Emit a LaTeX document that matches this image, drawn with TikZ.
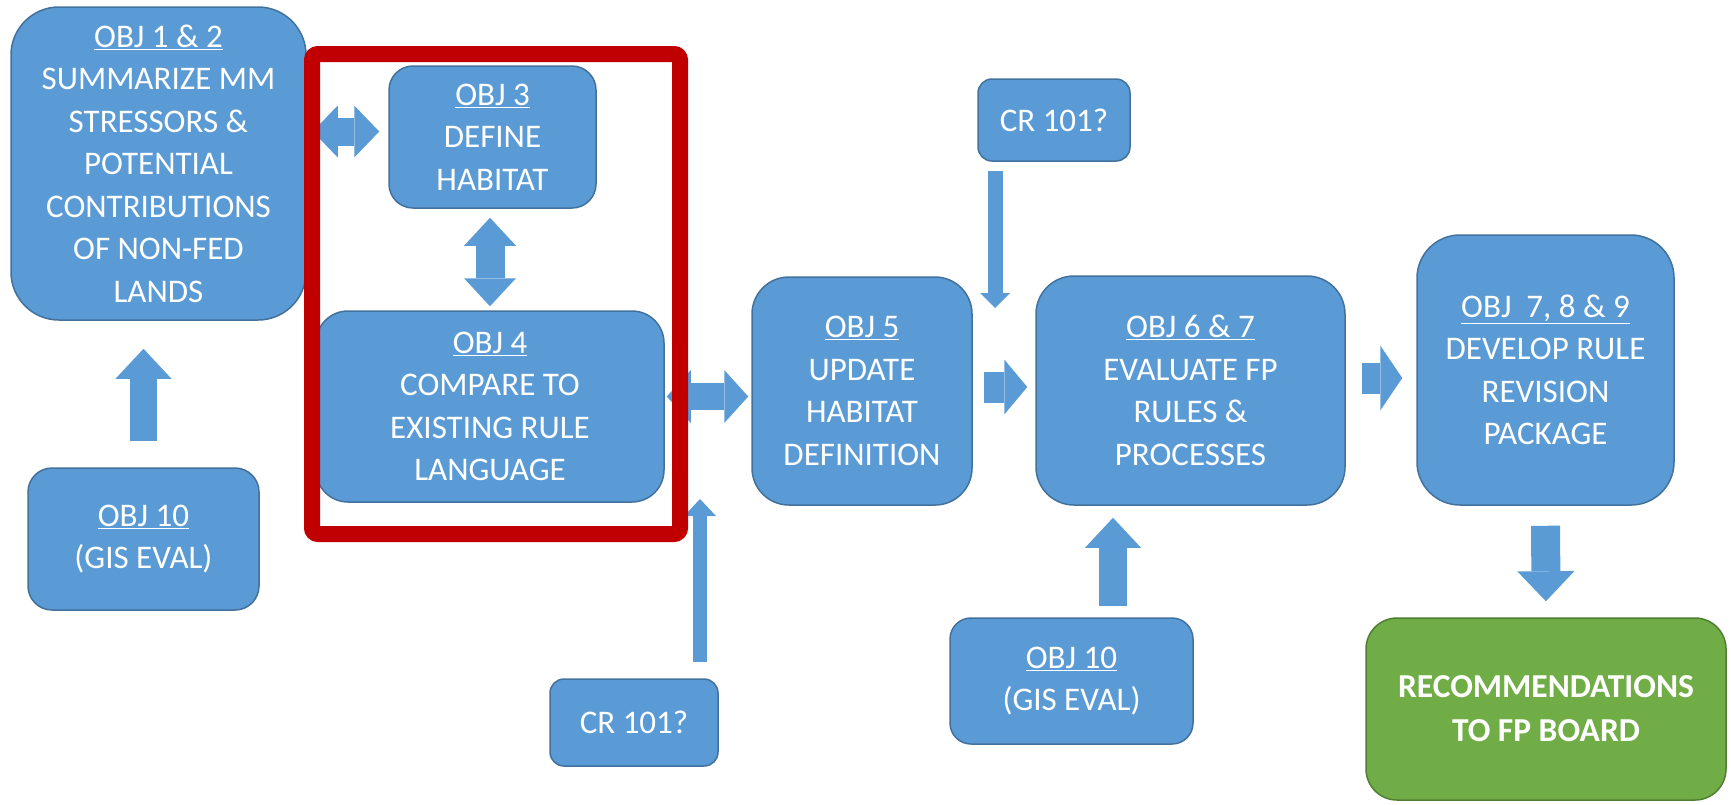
\documentclass[tikz,border=0pt]{standalone}
\usepackage{fontspec}
\setmainfont{Carlito}
\usetikzlibrary{positioning}
\usetikzlibrary{arrows.meta}
\usetikzlibrary{calc}
\definecolor{objBlue}{HTML}{5B9BD5}
\definecolor{objEdge}{HTML}{41719C}
\definecolor{recGreen}{HTML}{70AD47}
\definecolor{recEdge}{HTML}{507E32}
\definecolor{frameRed}{HTML}{C00000}
\tikzset{%
	% Specifications for style of nodes:
	base/.style = {rectangle, draw=objEdge, line width=1.5pt, fill=objBlue,
		text=white, inner sep=0pt, align=center,
		font=\fontsize{33}{42.5}\selectfont},
	objBox/.style = {base, rounded corners=#1},
	recBox/.style = {base, rounded corners=31pt, fill=recGreen, draw=recEdge,
		font=\fontsize{33.5}{44}\selectfont\bfseries},
	% block arrows: shaft width, head width, head length
	bigArrow/.style n args = {3}{draw=objBlue, line width=#1,
		arrows={-{Triangle[width=#2, length=#3, line width=0pt]}}},
	bigBothArrow/.style n args = {3}{draw=objBlue, line width=#1,
		arrows={{Triangle[width=#2, length=#3, line width=0pt]}-{Triangle[width=#2, length=#3, line width=0pt]}}},
}

\begin{document}
\begin{tikzpicture}[x=1pt, y=-1pt]
\useasboundingbox (0,0) rectangle (1731,804);

\node (obj12) [objBox=48pt, minimum width=295pt, minimum height=313pt] at (158.5,163.5) {\underline{OBJ 1 \& 2}\\SUMMARIZE MM\\STRESSORS \&\\POTENTIAL\\CONTRIBUTIONS\\OF NON-FED\\LANDS};
\node (obj3) [objBox=24pt, minimum width=207pt, minimum height=142pt] at (492.5,137) {\underline{OBJ 3}\\DEFINE\\HABITAT};
\node (obj4) [objBox=32pt, minimum width=348pt, minimum height=191pt] at (490,406.5) {\underline{OBJ 4}\\COMPARE TO\\EXISTING RULE\\LANGUAGE};
\node (obj5) [objBox=37pt, minimum width=220pt, minimum height=228pt] at (862,391) {\underline{OBJ 5}\\UPDATE\\HABITAT\\DEFINITION};
\node (obj67) [objBox=38pt, minimum width=309pt, minimum height=229pt] at (1190.5,390.5) {\underline{OBJ 6 \& 7}\\EVALUATE FP\\RULES \&\\PROCESSES};
\node (obj789) [objBox=43pt, minimum width=257pt, minimum height=270pt] at (1545.5,370) {\underline{OBJ~~7, 8 \& 9}\\DEVELOP RULE\\REVISION\\PACKAGE};
\node (crtop) [objBox=14pt, minimum width=152pt, minimum height=82pt] at (1054,120) {CR 101?};
\node (crlow) [objBox=14pt, minimum width=168pt, minimum height=87pt] at (634,722.5) {CR 101?};
\node (gisleft) [objBox=24pt, minimum width=231pt, minimum height=142pt] at (143.5,539) {\underline{OBJ 10}\\(GIS EVAL)};
\node (gismid) [objBox=21pt, minimum width=243pt, minimum height=126pt] at (1071.5,681) {\underline{OBJ 10}\\(GIS EVAL)};
\node (recboard) [recBox, minimum width=360pt, minimum height=182pt] at (1546,709) {RECOMMENDATIONS\\TO FP BOARD};

\coordinate (crlowTip) at (700,499);
\coordinate (crtopTip) at (995,308);

\draw[bigBothArrow={28pt}{52pt}{25pt}, shorten <=6pt, shorten >=9pt] ([yshift=32pt]obj12.east) -- ([yshift=32pt]obj12.east -| obj3.west);
\draw[bigBothArrow={29pt}{52pt}{28pt}, shorten <=9pt, shorten >=4pt] (obj4.north |- obj3.south) -- (obj4.north);
\draw[bigArrow={27pt}{56pt}{30pt}, shorten <=26pt, shorten >=28pt] (gisleft.north) -- (gisleft.north |- obj12.south);
\draw[bigBothArrow={27pt}{53pt}{24pt}, shorten <=2pt, shorten >=3pt] ([yshift=10pt]obj4.east) -- ([yshift=10pt]obj4.east -| obj5.west);
\draw[bigArrow={14pt}{32pt}{17pt}] ([xshift=66pt, yshift=16pt]crlow.north) -- (crlowTip);
\draw[bigArrow={15pt}{30pt}{15pt}] ([xshift=-59pt, yshift=-9pt]crtop.south) -- (crtopTip);
\draw[bigArrow={31pt}{55pt}{23pt}, shorten <=11pt, shorten >=8pt] ([yshift=4pt]obj5.east) -- ([yshift=4pt]obj5.east -| obj67.west);
\draw[bigArrow={31pt}{65pt}{22pt}, shorten <=16pt, shorten >=14pt] ([yshift=12.5pt]obj67.east) -- ([yshift=12.5pt]obj67.east -| obj789.west);
\draw[bigArrow={28pt}{56pt}{30pt}, shorten <=11pt, shorten >=12pt] ([xshift=41.5pt]gismid.north) -- ([xshift=41.5pt]gismid.north |- obj67.south);
\draw[bigArrow={29pt}{57pt}{30pt}, shorten <=20pt, shorten >=16pt] (obj789.south) -- (recboard.north);

% highlight frame round OBJ 3 and OBJ 4
\draw[frameRed, line width=16pt, rounded corners=6pt] (312,54) rectangle (680,534);
\end{tikzpicture}
\end{document}
